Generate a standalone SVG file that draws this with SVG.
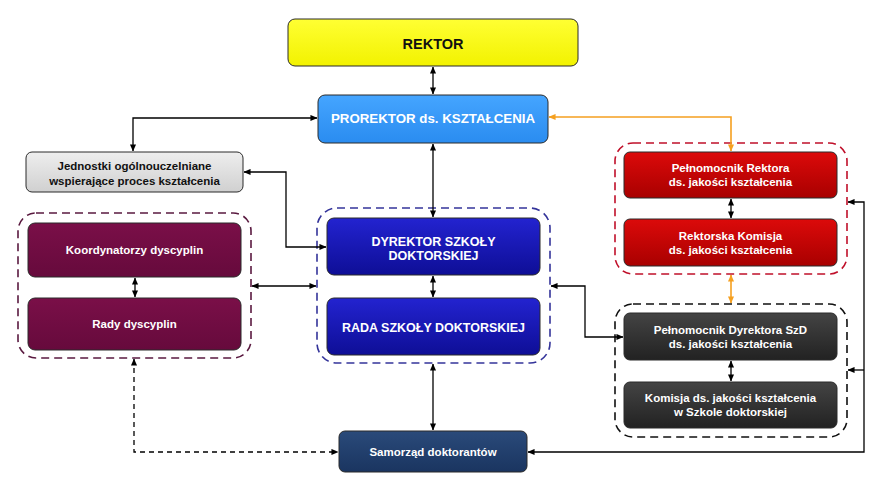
<svg xmlns="http://www.w3.org/2000/svg" width="877" height="480" viewBox="0 0 877 480">
<defs>
<linearGradient id="gYellow" x1="0" y1="0" x2="0" y2="1"><stop offset="0" stop-color="#ffff33"/><stop offset="1" stop-color="#f2f200"/></linearGradient>
<linearGradient id="gLblue" x1="0" y1="0" x2="0" y2="1"><stop offset="0" stop-color="#45a5ff"/><stop offset="1" stop-color="#2a8cf0"/></linearGradient>
<linearGradient id="gGray" x1="0" y1="0" x2="0" y2="1"><stop offset="0" stop-color="#eeeeee"/><stop offset="1" stop-color="#d0d0d0"/></linearGradient>
<linearGradient id="gPurple" x1="0" y1="0" x2="0" y2="1"><stop offset="0" stop-color="#7a0f48"/><stop offset="1" stop-color="#660a3c"/></linearGradient>
<linearGradient id="gBlue" x1="0" y1="0" x2="0" y2="1"><stop offset="0" stop-color="#2323d0"/><stop offset="1" stop-color="#0e0e96"/></linearGradient>
<linearGradient id="gRed" x1="0" y1="0" x2="0" y2="1"><stop offset="0" stop-color="#dc0a0a"/><stop offset="1" stop-color="#a80000"/></linearGradient>
<linearGradient id="gDark" x1="0" y1="0" x2="0" y2="1"><stop offset="0" stop-color="#444444"/><stop offset="1" stop-color="#222222"/></linearGradient>
<linearGradient id="gNavy" x1="0" y1="0" x2="0" y2="1"><stop offset="0" stop-color="#2a4a7a"/><stop offset="1" stop-color="#1a3560"/></linearGradient>
<marker id="ab" viewBox="0 0 8 8" refX="7.5" refY="4" markerWidth="7" markerHeight="7" markerUnits="userSpaceOnUse" orient="auto-start-reverse"><path d="M0,0.5 L8,4 L0,7.5 Z" fill="#000"/></marker>
<marker id="ao" viewBox="0 0 8 8" refX="7.5" refY="4" markerWidth="7" markerHeight="7" markerUnits="userSpaceOnUse" orient="auto-start-reverse"><path d="M0,0.5 L8,4 L0,7.5 Z" fill="#f5a020"/></marker>
</defs>
<style>
.box{stroke:#2a2a2a;stroke-width:1}
.t{font-family:"Liberation Sans",Arial,sans-serif;font-weight:bold;text-anchor:middle;font-size:11.5px;fill:#fff}
.dk{fill:#111}
.cont{fill:none;stroke-width:1.6;stroke-dasharray:8 5}
.c{fill:none;stroke:#000;stroke-width:1.3}
.co{fill:none;stroke:#f5a020;stroke-width:1.6}
</style>
<rect width="877" height="480" fill="#fff"/>

<g id="containers">
<rect id="cont-purple" class="cont" x="18" y="213" width="233" height="145" rx="18" stroke="#5a1a40"/>
<rect id="cont-blue" class="cont" x="317" y="208" width="233" height="155" rx="20" stroke="#34349a"/>
<rect id="cont-red" class="cont" x="615" y="143" width="232" height="131" rx="18" stroke="#c0102a"/>
<rect id="cont-black" class="cont" x="615" y="304" width="232" height="133" rx="18" stroke="#111"/>
</g>

<g id="connectors">
<path class="c" d="M433,67 V94" marker-start="url(#ab)" marker-end="url(#ab)"/>
<path class="c" d="M317,118 H133 V151" marker-start="url(#ab)" marker-end="url(#ab)"/>
<path class="co" d="M549,117 H731 V151" marker-start="url(#ao)" marker-end="url(#ao)"/>
<path class="c" d="M433,144 V217" marker-start="url(#ab)" marker-end="url(#ab)"/>
<path class="c" d="M433,276 V297" marker-start="url(#ab)" marker-end="url(#ab)"/>
<path class="c" d="M244,172 H286 V247 H326" marker-start="url(#ab)" marker-end="url(#ab)"/>
<path class="c" d="M252,286 H316" marker-start="url(#ab)" marker-end="url(#ab)"/>
<path class="c" d="M135,278 V297" marker-start="url(#ab)" marker-end="url(#ab)"/>
<path class="c" d="M433,364 V430" marker-start="url(#ab)" marker-end="url(#ab)"/>
<path class="c" d="M134,359 V452 H338" stroke-dasharray="5 4" marker-start="url(#ab)" marker-end="url(#ab)"/>
<path class="c" d="M551,286 H585 V337 H623" marker-start="url(#ab)" marker-end="url(#ab)"/>
<path class="c" d="M731,199 V218" marker-start="url(#ab)" marker-end="url(#ab)"/>
<path class="co" d="M731,275 V303" marker-start="url(#ao)" marker-end="url(#ao)"/>
<path class="c" d="M731,361 V381" marker-start="url(#ab)" marker-end="url(#ab)"/>
<path class="c" d="M528,452 H864 V202 H848" marker-start="url(#ab)" marker-end="url(#ab)"/>
<path class="c" d="M864,370 H848" marker-end="url(#ab)"/>
</g>

<g id="rektor">
<rect class="box" x="288" y="19" width="290" height="47" rx="7" fill="url(#gYellow)"/>
<text class="t dk" x="433" y="48.5" style="font-size:14.5px">REKTOR</text>
</g>
<g id="prorektor">
<rect class="box" x="318" y="95" width="230" height="48" rx="7" fill="url(#gLblue)"/>
<text class="t" x="433" y="123" style="font-size:13.3px">PROREKTOR ds. KSZTAŁCENIA</text>
</g>
<g id="jednostki">
<rect class="box" x="26" y="152" width="217" height="40" rx="6" fill="url(#gGray)" stroke="#555"/>
<text class="t dk" x="134.5" y="170">Jednostki ogólnouczelniane</text>
<text class="t dk" x="134.5" y="185">wspierające proces kształcenia</text>
</g>
<g id="koordynatorzy">
<rect class="box" x="28" y="223" width="213" height="54" rx="7" fill="url(#gPurple)"/>
<text class="t" x="134.5" y="254">Koordynatorzy dyscyplin</text>
</g>
<g id="rady">
<rect class="box" x="28" y="298" width="213" height="52" rx="7" fill="url(#gPurple)"/>
<text class="t" x="134.5" y="328">Rady dyscyplin</text>
</g>
<g id="dyrektor">
<rect class="box" x="327" y="218" width="213" height="57" rx="7" fill="url(#gBlue)"/>
<text class="t" x="433.5" y="245.5" style="font-size:12.5px">DYREKTOR SZKOŁY</text>
<text class="t" x="433.5" y="260" style="font-size:12.5px">DOKTORSKIEJ</text>
</g>
<g id="rada">
<rect class="box" x="327" y="298" width="213" height="57" rx="7" fill="url(#gBlue)"/>
<text class="t" x="433.5" y="331.5" style="font-size:12.5px">RADA SZKOŁY DOKTORSKIEJ</text>
</g>
<g id="pelnomocnik-rektora">
<rect class="box" x="624" y="152" width="213" height="46" rx="6" fill="url(#gRed)"/>
<text class="t" x="730.5" y="172">Pełnomocnik Rektora</text>
<text class="t" x="730.5" y="186">ds. jakości kształcenia</text>
</g>
<g id="rektorska-komisja">
<rect class="box" x="624" y="219" width="213" height="47" rx="6" fill="url(#gRed)"/>
<text class="t" x="730.5" y="240">Rektorska Komisja</text>
<text class="t" x="730.5" y="254">ds. jakości kształcenia</text>
</g>
<g id="pelnomocnik-dyrektora">
<rect class="box" x="624" y="313" width="213" height="47" rx="6" fill="url(#gDark)"/>
<text class="t" x="730.5" y="334">Pełnomocnik Dyrektora SzD</text>
<text class="t" x="730.5" y="348">ds. jakości kształcenia</text>
</g>
<g id="komisja-szd">
<rect class="box" x="624" y="382" width="213" height="46" rx="6" fill="url(#gDark)"/>
<text class="t" x="730.5" y="402">Komisja ds. jakości kształcenia</text>
<text class="t" x="730.5" y="416">w Szkole doktorskiej</text>
</g>
<g id="samorzad">
<rect class="box" x="339" y="431" width="188" height="41" rx="6" fill="url(#gNavy)"/>
<text class="t" x="433" y="455.5">Samorząd doktorantów</text>
</g>
</svg>
